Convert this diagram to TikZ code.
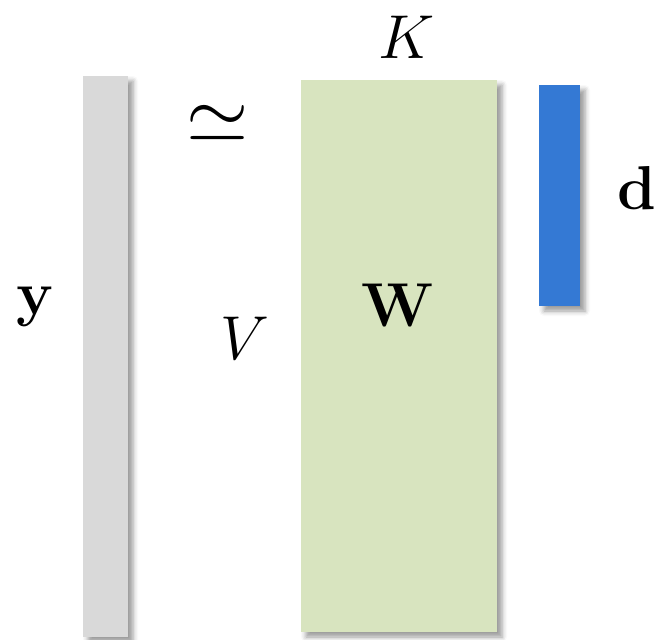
\documentclass[tikz,border=0pt]{standalone}
\usepackage{fix-cm}
\usepackage{amsmath}
\usepackage{amssymb}
\usetikzlibrary{shadows.blur}
\definecolor{barGray}{HTML}{D9D9D9}
\definecolor{matGreen}{HTML}{D8E4BF}
\definecolor{vecBlue}{HTML}{3479D4}
\tikzset{
  bar/.style={rectangle,inner sep=0pt,draw=none,
    blur shadow={shadow xshift=2.5pt,shadow yshift=-2.5pt,shadow blur radius=2.5pt,shadow opacity=40}},
  lbl/.style={inner sep=0pt,font=\fontsize{31}{36}\selectfont}
}
\begin{document}
\begin{tikzpicture}[x=0.5pt,y=-0.5pt]
\useasboundingbox (0,0) rectangle (658,639);
\node[bar,fill=barGray,minimum width=22.5pt,minimum height=280.5pt] (y) at (105.5,356.5) {};
\node[bar,fill=matGreen,minimum width=98pt,minimum height=276pt] (W) at (399,356) {};
\node[bar,fill=vecBlue,minimum width=20.5pt,minimum height=110.5pt] (d) at (559.5,195.5) {};
\node[lbl] (ylbl) at (35,307) {$\mathbf{y}$};
\node[lbl,font=\fontsize{40}{46}\selectfont] (approx) at (218,124) {$\simeq$};
\node[lbl] (K) at (407,37) {$K$};
\node[lbl] (V) at (245,338) {$V$};
\node[lbl] (Wlbl) at (398,305) {$\mathbf{W}$};
\node[lbl] (dlbl) at (637,188) {$\mathbf{d}$};
\end{tikzpicture}
\end{document}
